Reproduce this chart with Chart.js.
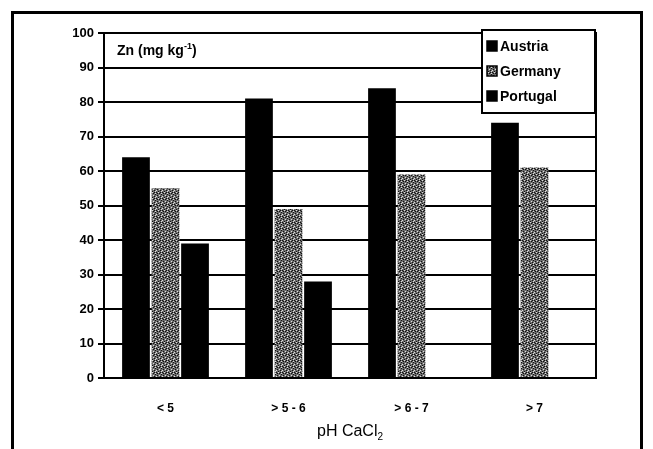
<!DOCTYPE html>
<html>
<head>
<meta charset="utf-8">
<script src="https://cdn.jsdelivr.net/npm/chart.js@4"></script>
<style>
  html, body { margin: 0; padding: 0; background: #fff; }
  #wrap { position: relative; width: 653px; height: 449px; }
  #frame { position: absolute; left: 11px; top: 11px; width: 632px; height: 460px;
           border: 3px solid #000; border-bottom: none; box-sizing: border-box; }
  canvas { position: absolute; left: 0; top: 0; }
</style>
</head>
<body>
<div id="wrap">
  <div id="frame"></div>
  <canvas id="chart" width="653" height="449"></canvas>
</div>
<script>
// data
const categories = ['< 5', '> 5 - 6', '> 6 - 7', '> 7'];
const austria = [64, 81, 84, 74];
const germany = [55, 49, 59, 61];
const portugal = [39, 28, null, null];
const yTicks = [0, 10, 20, 30, 40, 50, 60, 70, 80, 90, 100];

// speckled grey fill for Germany, like the scanned bars
function speckle() {
    const c = document.createElement('canvas');
    c.width = 6; c.height = 6;
    const g = c.getContext('2d');
    g.fillStyle = '#6e6e6e';
    g.fillRect(0, 0, 6, 6);
    g.fillStyle = '#111';
    [[0,0],[3,1],[1,3],[4,4],[2,5],[5,2],[1,1],[4,0]].forEach(p => g.fillRect(p[0], p[1], 1, 1));
    g.fillStyle = '#ddd';
    [[2,0],[5,5],[0,4],[3,3],[5,1]].forEach(p => g.fillRect(p[0], p[1], 1, 1));
    return g.createPattern(c, 'repeat');
}
const germanyFill = speckle();

const font = 'Arial, "Liberation Sans", sans-serif';

// plot frame, inner title, x title and boxed legend
const decor = {
    id: 'decor',
    afterDatasetsDraw(chart) {
        const ctx = chart.ctx;
        const a = chart.chartArea;
        ctx.save();
        ctx.strokeStyle = '#000';
        ctx.lineWidth = 2;
        ctx.strokeRect(a.left, a.top, a.right - a.left, a.bottom - a.top);

        // inner title Zn (mg kg-1)
        ctx.fillStyle = '#000';
        ctx.textBaseline = 'alphabetic';
        ctx.font = 'bold 14px ' + font;
        ctx.textAlign = 'left';
        let x = a.left + 13, y = a.top + 22;
        ctx.fillText('Zn (mg kg', x, y);
        x += ctx.measureText('Zn (mg kg').width;
        ctx.font = 'bold 9px ' + font;
        ctx.fillText('-1', x, y - 6);
        x += ctx.measureText('-1').width;
        ctx.font = 'bold 14px ' + font;
        ctx.fillText(')', x, y);

        // x title pH CaCl2
        ctx.font = '16px ' + font;
        const t1 = 'pH CaCl';
        const w1 = ctx.measureText(t1).width;
        ctx.font = '10px ' + font;
        const w2 = ctx.measureText('2').width;
        let tx = (a.left + a.right) / 2 - (w1 + w2) / 2;
        ctx.font = '16px ' + font;
        ctx.fillText(t1, tx, 436);
        ctx.font = '10px ' + font;
        ctx.fillText('2', tx + w1, 440);

        // legend box
        const lx = 482, ly = 30, lw = 113, lh = 83;
        ctx.fillStyle = '#fff';
        ctx.fillRect(lx, ly, lw, lh);
        ctx.lineWidth = 2;
        ctx.strokeRect(lx, ly, lw, lh);
        ctx.font = 'bold 14px ' + font;
        ctx.textBaseline = 'middle';
        chart.data.datasets.forEach((ds, i) => {
            const iy = ly + 16 + i * 25;
            ctx.fillStyle = ds.backgroundColor;
            ctx.fillRect(lx + 5, iy - 5, 10, 10);
            ctx.strokeStyle = '#000';
            ctx.lineWidth = 1.5;
            ctx.strokeRect(lx + 5, iy - 5, 10, 10);
            ctx.fillStyle = '#000';
            ctx.fillText(ds.label, lx + 18, iy + 1);
        });
        ctx.restore();
    }
};

new Chart(document.getElementById('chart').getContext('2d'), {
    type: 'bar',
    data: {
        labels: categories,
        datasets: [
            { label: 'Austria', data: austria, backgroundColor: '#000' },
            { label: 'Germany', data: germany, backgroundColor: germanyFill },
            { label: 'Portugal', data: portugal, backgroundColor: '#000' }
        ]
    },
    options: {
        responsive: false,
        animation: false,
        layout: { padding: { left: 0, top: 33, right: 57, bottom: 0 } },
        datasets: { bar: { barPercentage: 0.94, categoryPercentage: 0.72 } },
        plugins: { legend: { display: false }, tooltip: { enabled: false } },
        scales: {
            x: {
                grid: { display: false },
                border: { color: '#000', width: 2 },
                ticks: { color: '#000', padding: 15, font: { family: font, size: 12, weight: 'bold' } },
                afterFit: s => { s.height = 71; }
            },
            y: {
                min: 0, max: 100,
                afterBuildTicks: s => { s.ticks = yTicks.map(v => ({ value: v })); },
                grid: { color: '#000', lineWidth: 2, tickLength: 6 },
                border: { color: '#000', width: 2 },
                ticks: { color: '#000', padding: 4, font: { family: font, size: 13, weight: 'bold' } },
                afterFit: s => { s.width = 104; }
            }
        }
    },
    plugins: [decor]
});
</script>
</body>
</html>
